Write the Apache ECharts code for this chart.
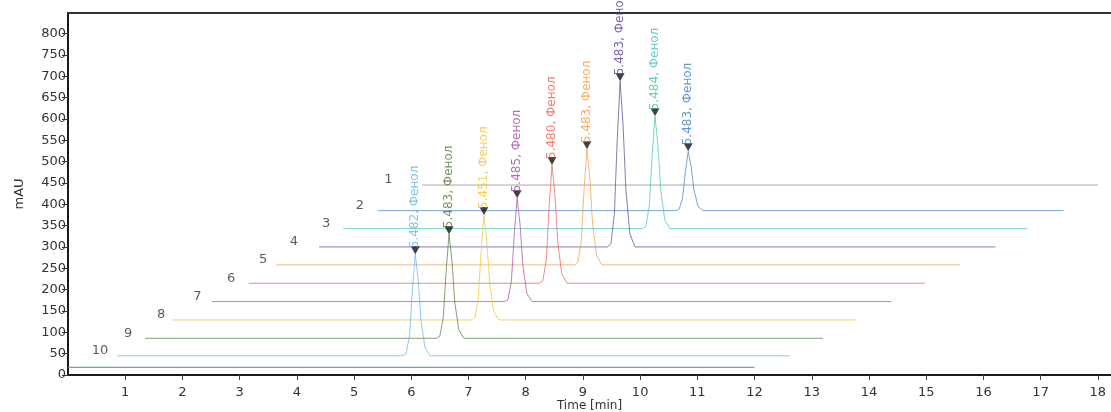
<!DOCTYPE html>
<html><head><meta charset="utf-8">
<script src="https://cdn.jsdelivr.net/npm/echarts@6/dist/echarts.min.js"></script>
<style>html,body{margin:0;padding:0;background:#fff}#c{width:1111px;height:412px}</style>
</head><body><div id="c"></div>
<script>
// ---- data (time [min], mAU) ----
const baseTrace = [[0,18],[12.0,18]];
const trace1  = [[6.19,445],[18.0,445]];
const trace2  = [[5.42,385],[10.62,385],[10.68,388],[10.74,413],[10.79,475],[10.84,524],[10.89,489],[10.94,434],[11.01,396],[11.10,385],[17.4,385]];
const trace3  = [[4.81,343],[10.04,343],[10.10,348],[10.16,396],[10.21,514],[10.26,606],[10.31,540],[10.36,435],[10.43,364],[10.52,343],[16.77,343]];
const trace4  = [[4.39,300],[9.43,300],[9.49,308],[9.55,378],[9.60,552],[9.65,688],[9.70,591],[9.75,436],[9.82,331],[9.91,300],[16.21,300]];
const trace5  = [[3.64,258],[8.85,258],[8.91,263],[8.97,312],[9.02,434],[9.07,529],[9.12,461],[9.17,353],[9.24,280],[9.33,258],[15.59,258]];
const trace6  = [[3.16,215],[8.24,215],[8.30,221],[8.36,270],[8.41,395],[8.46,492],[8.51,423],[8.56,312],[8.63,237],[8.72,215],[14.98,215]];
const trace7  = [[2.52,172],[7.63,172],[7.69,177],[7.75,220],[7.80,329],[7.85,414],[7.90,354],[7.95,257],[8.02,191],[8.11,172],[14.39,172]];
const trace8  = [[1.82,129],[7.05,129],[7.11,134],[7.17,178],[7.22,289],[7.27,375],[7.32,314],[7.37,215],[7.44,149],[7.53,129],[13.76,129]];
const trace9  = [[1.35,86],[6.44,86],[6.50,91],[6.56,135],[6.61,245],[6.66,330],[6.71,269],[6.76,171],[6.83,106],[6.92,86],[13.2,86]];
const trace10 = [[0.86,45],[5.85,45],[5.91,50],[5.97,93],[6.02,200],[6.07,283],[6.12,224],[6.17,128],[6.24,64],[6.33,45],[12.62,45]];

const traceNames  = ['1','2','3','4','5','6','7','8','9','10'];
const traceData   = [trace1,trace2,trace3,trace4,trace5,trace6,trace7,trace8,trace9,trace10];
const traceBase   = [445,385,343,300,258,215,172,129,86,45];

// peaks (trace 2..10)
const peakTrace = [2,3,4,5,6,7,8,9,10];
const peakTime  = [10.84,10.26,9.65,9.07,8.46,7.85,7.27,6.66,6.07];
const peakTop   = [524,606,688,529,492,414,375,330,283];
const peakRT    = ['5.483','5.484','5.483','5.483','5.480','5.485','5.451','5.483','5.482'];
const compound  = 'Фенол';

// ---- styling / layout ----
const colors = ['#808080','#3d7cc9','#3fc1b5','#5b3f94','#f39a3c','#ee5a4c','#a04aa6','#f2c12e','#4d7a3a','#5ab4e8'];
const baseColor = '#4a9aa0';
const labelTimes = [5.6,5.1,4.51,3.95,3.41,2.85,2.26,1.63,1.05,0.56];
const FONT = 'DejaVu Sans';

const series = [];
series.push({type:'line', data: baseTrace, showSymbol:false, silent:true,
  lineStyle:{color:baseColor, width:1.2, opacity:0.85}, z:2});
traceData.forEach((d,i)=>{
  series.push({type:'line', name:traceNames[i], data:d, showSymbol:false, silent:true,
    lineStyle:{color:colors[i], width:1, opacity:0.7}, z:3});
});
series.push({type:'scatter', symbolSize:0, silent:true, z:5,
  data: traceNames.map((n,i)=>({name:n, value:[labelTimes[i], traceBase[i]]})),
  label:{show:true, position:'inside', offset:[0,-5], formatter:p=>p.name,
    color:'#333', fontSize:13, fontFamily:FONT}
});
series.push({type:'scatter', silent:true, z:6,
  symbol:'triangle', symbolRotate:180, symbolSize:[9,8], symbolOffset:[0,-4],
  itemStyle:{color:'#111'},
  data: peakTime.map((t,i)=>({value:[t, peakTop[i]],
    label:{color: colors[peakTrace[i]-1]}})),
  label:{show:true, position:'top', distance:-2, rotate:90, align:'left', verticalAlign:'middle',
    fontSize:12, fontFamily:FONT,
    formatter:p=>peakRT[p.dataIndex] + ', ' + compound}
});

const chart = echarts.init(document.getElementById('c'), null, {renderer:'canvas'});
chart.setOption({
  animation:false,
  backgroundColor:'#fff',
  textStyle:{fontFamily:FONT},
  grid:{left:68, right:0, top:13, bottom:37, containLabel:false, outerBoundsMode:'none'},
  xAxis:[{
    type:'value', min:0, max:18.23, interval:1, position:'bottom',
    axisLine:{show:true, onZero:false, lineStyle:{color:'#1a1a1a', width:2}},
    axisTick:{show:true, length:5, lineStyle:{color:'#444'}},
    axisLabel:{showMinLabel:false, showMaxLabel:false, color:'#333', fontSize:13, margin:11, fontFamily:FONT},
    splitLine:{show:false},
    name:'Time [min]', nameLocation:'middle', nameGap:25, nameMoveOverlap:false,
    nameTextStyle:{color:'#333', fontSize:12, fontFamily:FONT}
  },{
    type:'value', min:0, max:18.23, position:'top',
    axisLine:{show:true, onZero:false, lineStyle:{color:'#333', width:2}},
    axisTick:{show:false}, axisLabel:{show:false}, splitLine:{show:false}
  }],
  yAxis:{
    type:'value', min:0, max:848, interval:50,
    axisLine:{show:true, onZero:false, lineStyle:{color:'#1a1a1a', width:2}},
    axisTick:{show:true, length:6, lineStyle:{color:'#333'}},
    axisLabel:{showMaxLabel:false, color:'#333', fontSize:13, margin:2, fontFamily:FONT},
    splitLine:{show:false},
    name:'mAU', nameLocation:'middle', nameGap:42, nameRotate:90, nameMoveOverlap:false,
    nameTextStyle:{color:'#333', fontSize:13, fontFamily:FONT}
  },
  series: series
});
</script></body></html>
